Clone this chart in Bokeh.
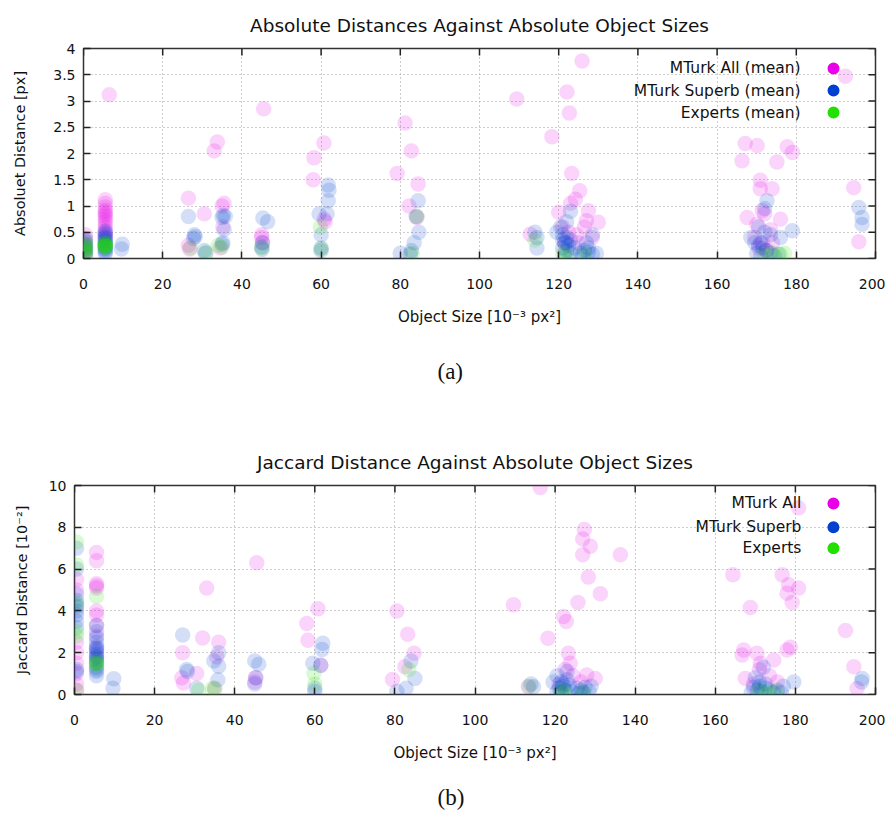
from bokeh.plotting import figure
from bokeh.models import Range1d, FixedTicker, Label, NumeralTickFormatter, Title
from bokeh.embed import file_html
from bokeh.resources import INLINE

# ---------------- data ----------------
x_ticks = [0, 20, 40, 60, 80, 100, 120, 140, 160, 180, 200]
a_y_ticks = [0, 0.5, 1, 1.5, 2, 2.5, 3, 3.5, 4]
b_y_ticks = [0, 2, 4, 6, 8, 10]

series_names_a = ["MTurk All (mean)", "MTurk Superb (mean)", "Experts (mean)"]
series_names_b = ["MTurk All", "MTurk Superb", "Experts"]

# (a) absolute distance [px] vs object size [1e-3 px^2]
a_mturk_all = [
    (0.5, 0.45), (0.5, 0.35), (0.5, 0.25), (0.5, 0.15), (0.5, 0.05),
    (5.5, 1.12), (5.5, 1.05), (5.5, 0.98), (5.5, 0.92), (5.5, 0.88), (5.5, 0.84), (5.5, 0.8),
    (5.5, 0.75), (5.5, 0.7), (5.5, 0.64), (5.5, 0.58), (5.5, 0.52), (5.5, 0.46), (5.5, 0.4), (6.5, 3.12),
    (26.5, 1.15), (26.5, 0.25), (26.8, 0.18), (30.5, 0.85), (33.0, 2.05), (33.8, 2.22),
    (35.5, 1.05), (35.0, 1.0), (35.2, 0.6), (34.5, 0.2),
    (45.5, 2.85), (45.0, 0.45), (45.0, 0.4), (45.2, 0.3),
    (58.2, 1.92), (58.0, 1.5), (60.7, 2.2), (60.8, 0.75), (61.0, 0.7),
    (79.2, 1.62), (81.2, 2.58), (82.8, 2.05), (82.2, 1.0), (84.5, 1.42), (84.2, 0.78),
    (109.4, 3.04), (125.9, 3.76), (122.1, 3.17), (122.7, 2.77), (118.3, 2.32), (123.3, 1.62),
    (125.3, 1.29), (124.2, 1.13), (123.0, 1.05), (120.0, 0.88), (127.5, 0.91), (130.0, 0.69),
    (127.0, 0.72), (126.5, 0.6), (112.8, 0.46), (121.0, 0.6), (122.5, 0.5), (124.5, 0.45),
    (128.5, 0.4), (125.0, 0.3), (121.5, 0.3),
    (167.1, 2.19), (170.1, 2.15), (166.3, 1.86), (175.1, 1.84), (177.7, 2.13), (179.0, 2.02),
    (170.9, 1.49), (170.9, 1.33), (173.9, 1.33), (171.4, 0.91), (172.0, 0.85), (167.6, 0.78),
    (176.0, 0.75), (170.0, 0.65), (173.5, 0.55), (169.5, 0.4), (171.5, 0.3), (174.0, 0.3),
    (170.5, 0.2), (172.5, 0.15),
    (192.4, 3.47), (194.5, 1.35), (195.8, 0.32),
]
a_mturk_superb = [
    (0.5, 0.38), (0.5, 0.32), (0.5, 0.27), (0.5, 0.22), (0.5, 0.18), (0.5, 0.13), (0.5, 0.08),
    (5.5, 0.52), (5.5, 0.48), (5.5, 0.44), (5.5, 0.4), (5.5, 0.37), (5.5, 0.34), (5.5, 0.31),
    (5.5, 0.28), (5.5, 0.25), (5.5, 0.22), (5.5, 0.19), (5.5, 0.16), (5.5, 0.13), (5.5, 0.1),
    (9.8, 0.27), (9.6, 0.18),
    (26.5, 0.8), (28.0, 0.45), (28.2, 0.42), (27.8, 0.38), (30.5, 0.15), (30.8, 0.1),
    (35.3, 0.82), (35.0, 0.78), (35.8, 0.8), (35.5, 0.55), (35.2, 0.3), (35.0, 0.27),
    (45.3, 0.77), (46.5, 0.7), (45.2, 0.3), (45.0, 0.22), (45.1, 0.17),
    (59.5, 0.85), (60.0, 0.45), (60.0, 0.2), (60.0, 0.15), (61.8, 1.4), (62.0, 1.3), (61.8, 1.1), (61.5, 0.85),
    (80.0, 0.1), (82.8, 0.15), (82.5, 0.08), (84.5, 1.1), (84.7, 0.5), (83.5, 0.3), (84.0, 0.8),
    (114.0, 0.5), (114.5, 0.4), (114.5, 0.2), (119.5, 0.5), (120.5, 0.6), (122.0, 0.7), (123.0, 0.9),
    (121.0, 0.45), (122.0, 0.4), (123.0, 0.35), (121.5, 0.3), (122.5, 0.25), (121.0, 0.2),
    (122.0, 0.15), (123.0, 0.1), (121.5, 0.05), (122.0, 0.3), (121.0, 0.35), (124.0, 0.2),
    (125.5, 0.1), (126.5, 0.15), (127.5, 0.12), (128.5, 0.08), (127.0, 0.3), (128.5, 0.45),
    (126.0, 0.05), (129.5, 0.1), (127.5, 0.2),
    (172.6, 1.1), (172.0, 0.95), (170.5, 0.6), (172.0, 0.5), (173.5, 0.45), (168.5, 0.4),
    (176.0, 0.4), (169.5, 0.3), (170.5, 0.25), (171.5, 0.2), (172.5, 0.15), (170.0, 0.1),
    (171.0, 0.05), (173.5, 0.1), (174.5, 0.05), (175.5, 0.08), (171.0, 0.3), (179.0, 0.53),
    (195.8, 0.97), (196.6, 0.78), (196.6, 0.65),
]
a_experts = [
    (0.5, 0.3), (0.5, 0.25), (0.5, 0.22), (0.5, 0.18), (0.5, 0.15), (0.5, 0.12), (0.5, 0.08),
    (5.5, 0.3), (5.5, 0.28), (5.5, 0.26), (5.5, 0.24), (5.5, 0.22), (5.5, 0.2), (5.5, 0.25), (5.5, 0.23),
    (27.0, 0.2), (31.0, 0.12), (34.0, 0.25), (35.0, 0.22),
    (45.0, 0.2), (59.8, 0.6), (60.0, 0.18),
    (84.2, 0.8), (83.0, 0.1),
    (114.0, 0.35), (121.0, 0.1), (122.0, 0.05), (126.5, 0.08),
    (172.0, 0.08), (174.0, 0.1), (176.0, 0.08), (177.0, 0.1),
]

# (b) Jaccard distance [1e-2] vs object size [1e-3 px^2]
b_mturk_all = [
    (0.5, 2.5), (0.5, 2.0), (0.5, 1.5), (0.5, 1.0), (0.5, 0.5), (0.5, 5.5), (0.5, 0.2), (0.5, 5.0),
    (5.5, 6.8), (5.5, 6.4), (5.5, 5.3), (5.5, 5.2), (5.5, 5.1), (5.5, 4.0), (5.5, 3.8), (5.5, 3.3),
    (5.5, 2.8), (5.5, 2.2), (5.5, 1.8),
    (27.0, 2.0), (26.8, 0.8), (27.2, 0.55), (30.5, 1.0), (33.0, 5.09), (32.0, 2.7), (36.0, 2.5),
    (35.5, 1.8), (35.0, 0.3),
    (45.5, 6.3), (45.2, 0.8), (45.0, 0.6),
    (58.0, 3.4), (58.3, 2.6), (60.8, 4.1), (61.5, 1.4),
    (80.5, 4.0), (83.2, 2.88), (79.4, 0.72), (84.8, 1.97), (82.5, 1.33),
    (116.3, 9.9), (127.3, 7.9), (126.9, 7.44), (128.8, 7.09), (126.9, 6.69), (136.3, 6.69),
    (128.3, 5.62), (131.3, 4.82), (125.7, 4.4), (109.6, 4.29), (122.1, 3.73), (122.8, 3.49),
    (118.2, 2.69), (123.3, 1.97), (123.75, 1.5), (122.5, 1.2), (127.9, 0.93), (130.0, 0.77),
    (113.3, 0.37), (124.5, 0.9), (126.5, 0.6), (121.0, 0.5),
    (180.8, 8.93), (164.4, 5.73), (176.7, 5.73), (178.3, 5.25), (180.8, 5.09), (177.9, 4.85),
    (179.2, 4.4), (168.75, 4.16), (167.1, 2.13), (166.7, 1.89), (170.4, 1.97), (177.9, 2.13),
    (178.75, 2.26), (174.6, 1.65), (171.25, 1.49), (167.5, 0.77), (171.0, 1.2), (173.5, 0.9),
    (169.5, 0.5), (175.5, 0.6),
    (192.5, 3.06), (194.6, 1.33), (195.4, 0.29),
]
b_mturk_superb = [
    (0.5, 7.0), (0.5, 6.0), (0.5, 4.8), (0.5, 4.5), (0.5, 4.2), (0.5, 4.0), (0.5, 3.8), (0.5, 3.5),
    (0.5, 3.2), (0.5, 1.2), (0.5, 1.1), (0.5, 4.3),
    (5.5, 3.3), (5.5, 3.0), (5.5, 2.7), (5.5, 2.5), (5.5, 2.3), (5.5, 2.1), (5.5, 1.9), (5.5, 1.7),
    (5.5, 1.5), (5.5, 1.3), (5.5, 1.1), (5.5, 0.9), (5.5, 2.0), (5.5, 1.6), (5.5, 2.2), (5.5, 1.8), (5.5, 1.2),
    (9.8, 0.75), (9.6, 0.3),
    (27.0, 2.85), (28.0, 1.2), (28.2, 1.1), (30.5, 0.3), (36.0, 2.0), (34.8, 1.6), (36.0, 1.35), (35.8, 0.7),
    (45.0, 1.6), (46.0, 1.45), (45.3, 0.8), (45.0, 0.5),
    (59.5, 1.5), (60.0, 0.3), (60.0, 0.15), (62.0, 2.45), (61.8, 2.15), (61.5, 1.4),
    (84.0, 1.6), (85.0, 0.77), (82.8, 0.3), (80.5, 0.15),
    (114.6, 0.37), (114.0, 0.5), (119.5, 0.6), (120.5, 0.9), (121.5, 0.6), (122.0, 0.4), (122.5, 0.2),
    (121.0, 0.3), (123.0, 0.7), (123.5, 0.45), (124.0, 0.15), (121.5, 0.1), (120.5, 0.15), (122.0, 0.5),
    (125.5, 0.3), (126.5, 0.2), (127.5, 0.35), (128.5, 0.15), (126.0, 0.05), (129.0, 0.4), (123.0, 1.1),
    (127.0, 0.1),
    (172.0, 1.3), (170.0, 0.8), (171.0, 0.6), (172.5, 0.5), (169.5, 0.35), (170.5, 0.2), (171.5, 0.15),
    (172.5, 0.3), (173.5, 0.2), (174.5, 0.1), (175.5, 0.2), (176.5, 0.1), (169.0, 0.1), (171.0, 0.4),
    (179.6, 0.6), (177.0, 0.4),
    (196.7, 0.77), (196.5, 0.6),
]
b_experts = [
    (0.5, 7.3), (0.5, 6.2), (0.5, 4.4), (0.5, 2.8), (0.5, 0.2), (0.5, 3.0),
    (5.5, 1.5), (5.5, 1.4), (5.5, 1.6), (5.5, 1.45), (5.5, 4.7),
    (31.0, 0.2), (34.5, 0.3), (35.0, 0.25),
    (59.8, 1.0), (60.0, 0.5),
    (83.5, 1.2), (113.5, 0.4), (121.5, 0.2), (122.5, 0.1), (127.0, 0.1),
    (171.0, 0.2), (173.0, 0.1), (175.0, 0.15),
]

# ---------------- styling ----------------
COLORS = ["#e800e8", "#0040d0", "#22e000"]
FONT = "DejaVu Sans"
ALPHA = 0.17
X_MAX = 200
TICK_LEN = 7  # px, inward


def build(title, ylabel, y_max, y_ticks, series, names, caption,
          frame_w, frame_h, b_left, b_top, b_bottom, title_standoff, ylab_standoff, y_fmt,
          legend_x_text, legend_x_mark, legend_rows, cap_offset, cap_standoff):
    p = figure(frame_width=frame_w, frame_height=frame_h,
               x_range=Range1d(0, X_MAX), y_range=Range1d(0, y_max),
               output_backend="svg", toolbar_location=None,
               min_border_left=b_left, min_border_right=10,
               min_border_top=b_top, min_border_bottom=b_bottom,
               background_fill_color="white", border_fill_color="white")
    p.title.text = title
    p.title.align = "center"
    p.title.text_font = FONT
    p.title.text_font_size = "18.5px"
    p.title.text_font_style = "normal"
    p.title.text_color = "#111111"
    p.title.standoff = title_standoff

    xa = p.below[0]
    ya = p.left[0]

    p.outline_line_color = "#333333"
    p.outline_line_width = 1.5
    p.outline_line_alpha = 1.0

    for g in (p.xgrid, p.ygrid):
        g.grid_line_color = "#9a9a9a"
        g.grid_line_dash = "1 3"
        g.grid_line_width = 1
    p.xgrid.ticker = FixedTicker(ticks=x_ticks)
    p.ygrid.ticker = FixedTicker(ticks=y_ticks)

    def style(ax, ticks):
        ax.ticker = FixedTicker(ticks=ticks)
        ax.major_tick_in = TICK_LEN
        ax.major_tick_out = 0
        ax.minor_tick_in = 0
        ax.minor_tick_out = 0
        ax.major_tick_line_color = "#222222"
        ax.major_tick_line_width = 1.5
        ax.axis_line_color = None
        ax.major_label_text_font = FONT
        ax.major_label_text_font_size = "14px"
        ax.major_label_text_color = "#111111"
        ax.axis_label_text_font = FONT
        ax.axis_label_text_font_style = "normal"
        ax.axis_label_text_color = "#111111"
        ax.axis_label_text_font_size = "15px"

    style(xa, x_ticks)
    xa.axis_label = "Object Size [10⁻³ px²]"
    xa.major_label_standoff = 20
    xa.axis_label_standoff = 16

    style(ya, y_ticks)
    ya.axis_label = ylabel
    ya.axis_label_text_font_size = "14.5px"
    ya.major_label_standoff = 8
    ya.axis_label_standoff = ylab_standoff
    ya.formatter = y_fmt

    # mirrored inward ticks on the top and right border (gnuplot style)
    dy = TICK_LEN / frame_h * y_max
    dx = TICK_LEN / frame_w * X_MAX
    p.segment(x0=x_ticks, y0=[y_max] * len(x_ticks), x1=x_ticks, y1=[y_max - dy] * len(x_ticks),
              line_color="#222222", line_width=1.5)
    p.segment(x0=[X_MAX] * len(y_ticks), y0=y_ticks, x1=[X_MAX - dx] * len(y_ticks), y1=y_ticks,
              line_color="#222222", line_width=1.5)

    for pts, color in zip(series, COLORS):
        xs = [pt[0] for pt in pts]
        ys = [pt[1] for pt in pts]
        p.scatter(xs, ys, size=15.5, fill_color=color, fill_alpha=ALPHA, line_color=None)

    # legend (gnuplot style: right-aligned text, then marker)
    for name, color, fy in zip(names, COLORS, legend_rows):
        p.add_layout(Label(x=legend_x_text, y=fy * y_max, text=name, text_align="right",
                           text_baseline="middle", text_font=FONT, text_font_size="15.5px",
                           text_color="#111111"))
        p.scatter([legend_x_mark], [fy * y_max], size=12, fill_color=color, line_color=None)

    # sub-figure caption, centred on the page
    cap = Title(text=caption, align="left", offset=cap_offset,
                text_font="Liberation Serif", text_font_size="23px",
                text_font_style="normal", text_color="#111111", standoff=cap_standoff)
    p.add_layout(cap, "below")
    return p


p1 = build("Absolute Distances Against Absolute Object Sizes", "Absoluet Distance [px]",
           4, a_y_ticks, [a_mturk_all, a_mturk_superb, a_experts], series_names_a, "(a)",
           792, 210, 83, 48, 178, 25, 22, NumeralTickFormatter(format="0.[0]"),
           181.1, 189.4, [0.905, 0.80, 0.695], 354, 56)
p2 = build("Jaccard Distance Against Absolute Object Sizes", "Jaccard Distance [10⁻²]",
           10, b_y_ticks, [b_mturk_all, b_mturk_superb, b_experts], series_names_b, "(b)",
           801, 209, 74, 49, 131, 26, 16, NumeralTickFormatter(format="0"),
           181.5, 189.5, [0.914, 0.80, 0.70], 363, 36)

open("out.html", "w").write(file_html([p1, p2], INLINE))
